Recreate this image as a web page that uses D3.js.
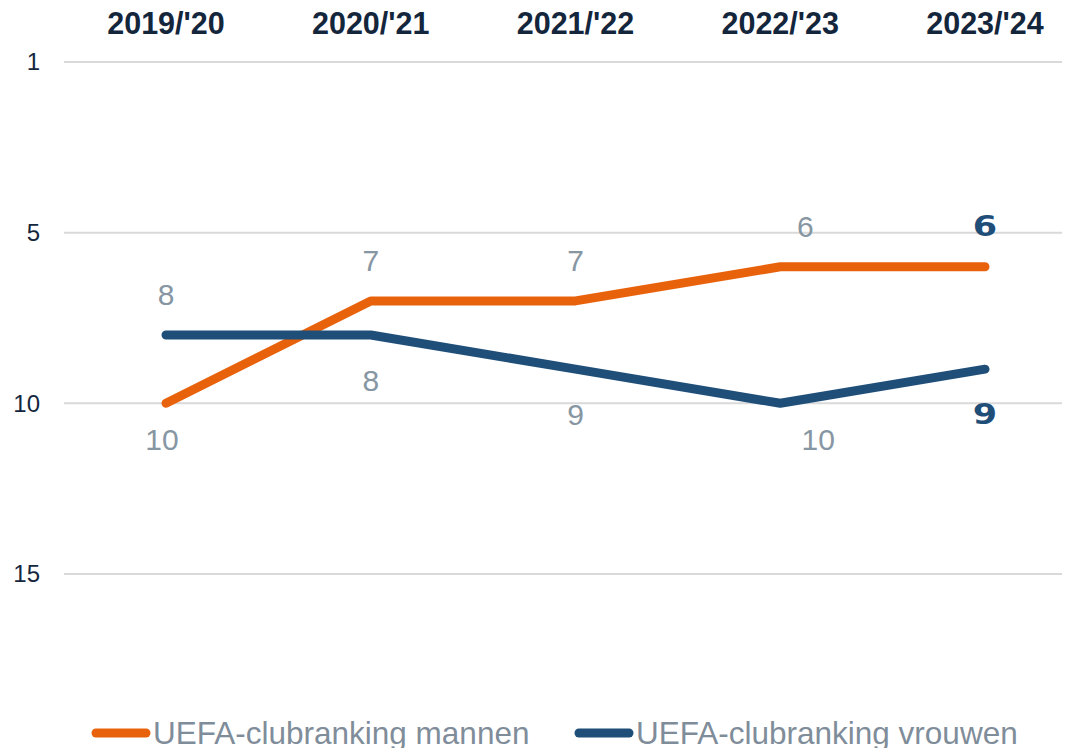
<html><head>
<meta charset="utf-8">
<title>UEFA-clubranking</title>
<style>
  body { margin: 0; background: #ffffff; }
  svg { display: block; font-family: "Liberation Sans", Arial, sans-serif; }
</style>
<script src="https://d3js.org/d3.v7.min.js"></script>
</head>
<body>
<div id="chart"></div>
<script>
// data
const seasons = ["2019/'20", "2020/'21", "2021/'22", "2022/'23", "2023/'24"];
const mannen = [10, 7, 7, 6, 6];
const vrouwen = [8, 8, 9, 10, 9];
const yTicks = [0, 5, 10, 15];
const yTickLabels = ["1", "5", "10", "15"];
// where each value label sits relative to its point
const mannenLabelSide = ["below", "above", "above", "above", "above"];
const vrouwenLabelSide = ["above", "below", "below", "below", "below"];

const width = 1074, height = 748;
const orange = "#e8620c", blue = "#1f4e79";
const labelGrey = "#8796a3", navy = "#14263c";

const svg = d3.select("#chart").append("svg")
  .attr("width", width)
  .attr("height", height);

const x = d3.scalePoint().domain(seasons).range([166, 985]);
const y = d3.scaleLinear().domain([0, 20]).range([62, 744.6]);

// gridlines + y labels
const grid = svg.append("g");
grid.selectAll("line").data(yTicks).join("line")
  .attr("x1", 64).attr("x2", 1062)
  .attr("y1", d => y(d)).attr("y2", d => y(d))
  .attr("stroke", "#d9d9d9").attr("stroke-width", 2);
grid.selectAll("text").data(yTicks).join("text")
  .attr("x", 40).attr("y", d => y(d))
  .attr("dy", "0.35em")
  .attr("text-anchor", "end")
  .attr("font-size", 24)
  .attr("fill", navy)
  .text((d, i) => yTickLabels[i]);

// season headers along the top
svg.append("g").selectAll("text").data(seasons).join("text")
  .attr("x", d => x(d)).attr("y", 34)
  .attr("text-anchor", "middle")
  .attr("font-size", 30.5)
  .attr("font-weight", "bold")
  .attr("fill", navy)
  .text(d => d);

const line = d3.line()
  .x((d, i) => x(seasons[i]))
  .y(d => y(d));

function drawSeries(values, color, sides) {
  svg.append("path")
    .datum(values)
    .attr("d", line)
    .attr("fill", "none")
    .attr("stroke", color)
    .attr("stroke-width", 9)
    .attr("stroke-linecap", "round")
    .attr("stroke-linejoin", "round");

  const last = values.length - 1;
  svg.append("g").selectAll("text").data(values).join("text")
    .attr("transform", (d, i) => {
      const dx = i === 3 ? (d >= 10 ? 38 : 25) : (i === 0 && d >= 10 ? -4 : 0);
      let dy = sides[i] === "above" ? -41 : 45;
      if (sides[i] === "below" && d >= 10) dy = 36;
      const sx = i === last ? 1.25 : 1;
      return `translate(${x(seasons[i]) + dx},${y(d) + dy}) scale(${sx},1)`;
    })
    .attr("dy", "0.36em")
    .attr("text-anchor", "middle")
    .attr("font-size", (d, i) => i === last ? 28 : 30)
    .attr("font-weight", (d, i) => i === last ? "bold" : "normal")
    .attr("font-family", (d, i) => i === last ? "'DejaVu Sans', sans-serif" : null)
    .attr("fill", (d, i) => i === last ? blue : labelGrey)
    .text(d => d);
}

drawSeries(mannen, orange, mannenLabelSide);
drawSeries(vrouwen, blue, vrouwenLabelSide);

// legend
const legendItems = [
  { name: "UEFA-clubranking mannen", color: orange, x: 92 },
  { name: "UEFA-clubranking vrouwen", color: blue, x: 575 }
];
const legend = svg.append("g").selectAll("g").data(legendItems).join("g")
  .attr("transform", d => `translate(${d.x},733)`);
legend.append("line")
  .attr("x1", 4).attr("x2", 54)
  .attr("stroke", d => d.color)
  .attr("stroke-width", 9)
  .attr("stroke-linecap", "round");
legend.append("text")
  .attr("x", 61).attr("y", 11)
  .attr("font-size", 31.5)
  .attr("fill", "#7f8d9a")
  .text(d => d.name);
</script>
</body></html>
